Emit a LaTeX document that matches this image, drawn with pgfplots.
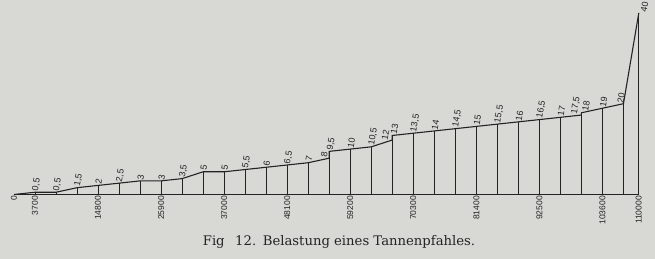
\documentclass[border=0pt]{standalone}
\usepackage{pgfplots}
\pgfplotsset{compat=1.18}
\usepackage{fontspec}
\setmainfont{Liberation Sans}
\newfontfamily\capfont{DejaVu Serif}
\definecolor{paper}{RGB}{216,216,213}
\definecolor{ink}{RGB}{35,35,35}
\begin{document}
\begin{tikzpicture}[x=1pt,y=1pt]
\path[use as bounding box, fill=paper] (0,0) rectangle (655,259);
\begin{axis}[
  at={(14pt,64.5pt)}, anchor=south west,
  scale only axis, width=624.8pt, height=181.6pt,
  xmin=0, xmax=110000, ymin=0, ymax=40,
  clip=false,
  axis line style={draw=none},
  tick style={draw=none},
  ytick=\empty,
  xtick={0,3700,14800,25900,37000,48100,59200,70300,81400,92500,103600,110000},
  xticklabels={0,3700,14800,25900,37000,48100,59200,70300,81400,92500,103600,110000},
  xticklabel style={rotate=90, anchor=east, font=\fontsize{8.5}{8.5}\selectfont, text=ink, inner sep=1.5pt},
  scaled x ticks=false,
]
% baseline
\addplot[ink, line width=1pt] coordinates {(0,0) (110000,0)};
% stations (verticals)
\addplot[ycomb, ink, line width=0.75pt] coordinates {
(3700,0.5) (7400,0.5) (11100,1.5) (14800,2) (18500,2.5) (22200,3) (25900,3)
(29600,3.5) (33300,5) (37000,5) (40700,5.5) (44400,6) (48100,6.5) (51800,7)
(55500,9.5) (59200,10) (62900,10.5) (66600,13) (70300,13.5) (74000,14)
(77700,14.5) (81400,15) (85100,15.5) (88800,16) (92500,16.5) (96200,17)
(99900,18) (103600,19) (107300,20) (110000,40)};
% load line
\addplot[ink, line width=1.1pt] coordinates {
(0,0) (3700,0.5) (7400,0.5) (11100,1.5) (14800,2) (18500,2.5) (22200,3) (25900,3)
(29600,3.5) (33300,5) (37000,5) (40700,5.5) (44400,6) (48100,6.5) (51800,7)
(55500,8) (55500,9.5) (59200,10) (62900,10.5) (66600,12) (66600,13) (70300,13.5) (74000,14)
(77700,14.5) (81400,15) (85100,15.5) (88800,16) (92500,16.5) (96200,17)
(99900,17.5) (99900,18) (103600,19) (107300,20) (110000,40)};
% value labels
\addplot[draw=none, mark=none, nodes near coords, point meta=explicit symbolic,
  every node near coord/.append style={rotate=80, anchor=west, inner sep=1.2pt,
  font=\fontsize{9}{9}\selectfont, text=ink}]
  table[meta=l] {
x y l
3700 0.5 0,5
7400 0.5 0,5
11100 1.5 1,5
14800 2 2
18500 2.5 2,5
22200 3 3
25900 3 3
29600 3.5 3,5
33300 5 5
37000 5 5
40700 5.5 5,5
44400 6 6
48100 6.5 6,5
51800 7 7
54500 7.9 8
55600 9.5 9,5
59200 10 10
62900 10.5 10,5
65200 11.7 12
66800 13 13
70300 13.5 13,5
74000 14 14
77700 14.5 14,5
81400 15 15
85100 15.5 15,5
88800 16 16
92500 16.5 16,5
96200 17 17
98600 17.4 17,5
100500 18.1 18
103600 19 19
106700 19.9 20
110800 40 40
};
\end{axis}
\node[text=ink, font=\capfont\fontsize{13.2}{14}\selectfont] at (339,17) {Fig\hspace{0.8em}12.\hspace{0.5em}Belastung eines Tannenpfahles.};
\end{tikzpicture}
\end{document}
